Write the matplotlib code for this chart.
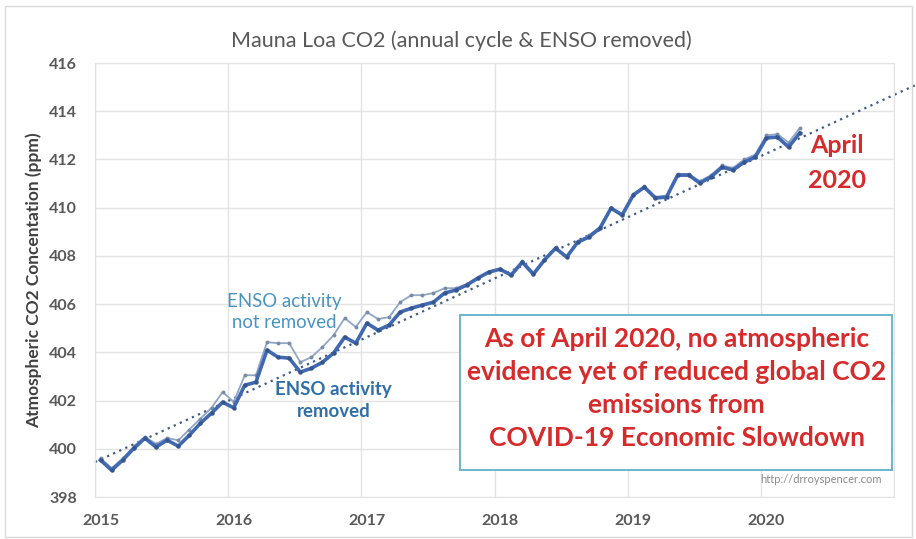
import matplotlib.pyplot as plt
import numpy as np
from matplotlib.patches import Rectangle

plt.rcParams['font.family'] = ['Lato', 'DejaVu Sans']

# monthly values, Jan 2015 .. Apr 2020 (ppm)
co2_removed = [399.53, 399.11, 399.53, 400.02, 400.44, 400.07, 400.36, 400.11, 400.56, 401.06, 401.48, 401.93,
               401.70, 402.64, 402.76, 404.09, 403.80, 403.76, 403.18, 403.34, 403.59, 403.97, 404.63, 404.38,
               405.21, 404.92, 405.13, 405.67, 405.83, 405.96, 406.08, 406.46, 406.58, 406.79, 407.08, 407.33,
               407.45, 407.20, 407.74, 407.24, 407.83, 408.32, 407.95, 408.57, 408.78, 409.15, 409.98, 409.69,
               410.52, 410.85, 410.40, 410.44, 411.35, 411.35, 411.02, 411.27, 411.68, 411.56, 411.89, 412.10,
               412.89, 412.93, 412.51, 413.10]
co2_not_removed = [399.60, 399.20, 399.60, 400.10, 400.50, 400.20, 400.45, 400.35, 400.80, 401.25, 401.70, 402.35,
                   401.95, 403.05, 403.05, 404.42, 404.38, 404.38, 403.59, 403.80, 404.22, 404.71, 405.42, 405.05,
                   405.67, 405.38, 405.46, 406.08, 406.37, 406.37, 406.46, 406.66, 406.66, 406.83, 407.10, 407.35,
                   407.45, 407.25, 407.80, 407.30, 407.85, 408.35, 408.00, 408.60, 408.85, 409.20, 410.00, 409.75,
                   410.55, 410.90, 410.45, 410.50, 411.40, 411.40, 411.10, 411.35, 411.75, 411.65, 412.00, 412.20,
                   413.00, 413.05, 412.70, 413.30]
# dotted trend: start (Jan 2015) and end (past 2020) values
trend_months = [0.0, 74.0]
trend_values = [399.45, 415.1]
years = ['2015', '2016', '2017', '2018', '2019', '2020']
y_ticks = [398, 400, 402, 404, 406, 408, 410, 412, 414, 416]

months = np.arange(len(co2_removed)) + 0.5

fig = plt.figure(figsize=(9.16, 5.39), dpi=100)
ax = fig.add_axes([0.1037, 0.0779, 0.8723, 0.8052])
fig.patches.append(Rectangle((0.006, 0.004), 0.99, 0.985, transform=fig.transFigure,
                             fill=False, edgecolor='#d9d9d9', linewidth=1))

ax.plot(trend_months, trend_values, linestyle=(0, (1, 2)), color='#3d5c86', linewidth=1.6,
        zorder=2, clip_on=False)
ax.plot(months, co2_not_removed, '-o', color='#8fa6c6', markersize=2.8, markerfacecolor='#7a8ba6',
        markeredgewidth=0, linewidth=1.3, zorder=3)
ax.plot(months, co2_removed, '-o', color='#4169b2', markersize=3.2, markerfacecolor='#35558f',
        markeredgewidth=0, linewidth=2.6, zorder=4)

ax.set_xlim(0, 72)
ax.set_ylim(398, 416)
ax.set_yticks(y_ticks)
ax.set_xticks(np.arange(len(years)) * 12 + 0.5)
ax.set_xticklabels(years)
ax.set_xticks(np.arange(0, 73, 12), minor=True)
ax.tick_params(axis='both', which='both', length=0, labelsize=11.5, labelcolor='#595959')
ax.tick_params(axis='x', pad=12)
ax.tick_params(axis='y', pad=13)
for lab in ax.get_xticklabels() + ax.get_yticklabels():
    lab.set_fontweight('bold')
ax.grid(which='minor', axis='x', color='#e3e3e3', linewidth=1)
ax.grid(which='major', axis='y', color='#e3e3e3', linewidth=1)
for s in ax.spines.values():
    s.set_color('#e3e3e3')

fig.text(0.504, 0.925, 'Mauna Loa CO2 (annual cycle & ENSO removed)', ha='center', va='center',
         fontsize=15.5, color='#595959')
ax.set_ylabel('Atmospheric CO2 Concentation (ppm)', fontsize=12.5, fontweight='bold', color='#404040',
              labelpad=5)

ax.text(17.05, 405.67, 'ENSO activity\nnot removed', ha='center', va='center', fontsize=13.4,
        color='#4a94c0', linespacing=1.3)
ax.text(21.5, 402.0, 'ENSO activity\nremoved', ha='center', va='center', fontsize=13.4,
        color='#2f6ea6', fontweight='bold', linespacing=1.3)
ax.text(66.9, 411.85, 'April\n2020', ha='center', va='center', fontsize=18, color='#d52b2b',
        fontweight='bold', linespacing=1.65)

ax.add_patch(Rectangle((0.457, 0.062), 0.541, 0.357, transform=ax.transAxes, facecolor='white',
                       edgecolor='#5fb0c8', linewidth=1.3, zorder=5))
ax.text(0.728, 0.249, 'As of April 2020, no atmospheric\nevidence yet of reduced global CO2\n'
        'emissions from\nCOVID-19 Economic Slowdown', transform=ax.transAxes, ha='center', va='center',
        fontsize=19, color='#d52b2b', fontweight='bold', linespacing=1.45, zorder=6)
ax.text(0.985, 0.04, 'http://drroyspencer.com', transform=ax.transAxes, ha='right', va='center',
        fontsize=8, color='#8c8c8c', zorder=6)

plt.savefig('out.png', dpi=100)
